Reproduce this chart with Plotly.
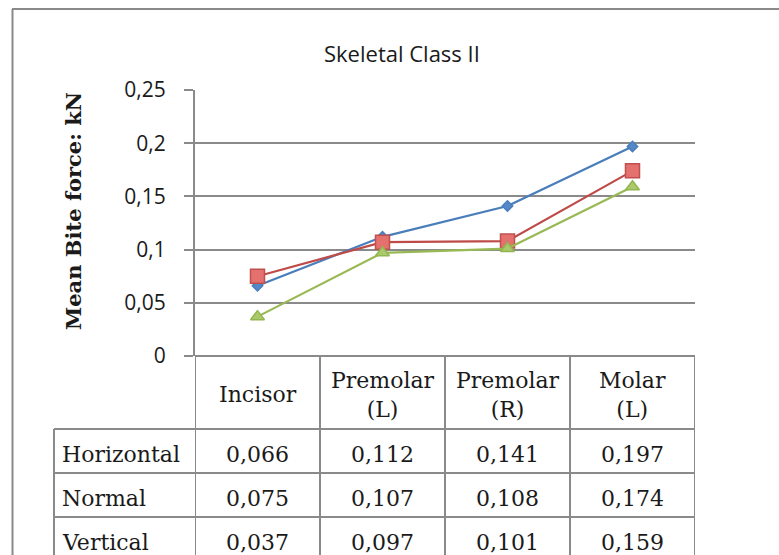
import plotly.graph_objects as go

# ---- data ----
categories = ["Incisor", "Premolar<br>(L)", "Premolar<br>(R)", "Molar<br>(L)"]
series_names = ["Horizontal", "Normal", "Vertical"]
horizontal = [0.066, 0.112, 0.141, 0.197]
normal = [0.075, 0.107, 0.108, 0.174]
vertical = [0.037, 0.097, 0.101, 0.159]
tick_vals = [0, 0.05, 0.1, 0.15, 0.2, 0.25]
tick_text = ["0", "0,05", "0,1", "0,15", "0,2", "0,25"]
title_text = "Skeletal Class II"
y_title = "Mean Bite force: kN"

series_values = [horizontal, normal, vertical]

W, H = 779, 555
def px(x):
    return x / W
def py(y):
    return 1 - y / H

GRAY = "#8a8a8a"
styles = [
    dict(line="#4a7ebb", fill="#5588c8", edge="#4a7ebb", symbol="diamond", size=8),
    dict(line="#be4b48", fill="#e5716e", edge="#c0504d", symbol="square", size=14),
    dict(line="#98b954", fill="#a9c96a", edge="#93b552", symbol="triangle-up", size=12),
]

fig = go.Figure()
xs = list(range(len(categories)))
for name, vals, st in zip(series_names, series_values, styles):
    fig.add_trace(go.Scatter(
        x=xs, y=vals, name=name, mode="lines+markers",
        line=dict(color=st["line"], width=2.2),
        marker=dict(symbol=st["symbol"], size=st["size"], color=st["fill"],
                    line=dict(color=st["edge"], width=1.5)),
        showlegend=False, cliponaxis=False,
    ))

# plot area pixels
X0, X1 = 195, 695
Y_TOP, Y_ZERO = 90, 356

fig.update_layout(
    width=W, height=H,
    margin=dict(l=0, r=0, t=0, b=0, pad=0, autoexpand=False),
    paper_bgcolor="white", plot_bgcolor="white",
    xaxis=dict(domain=[px(X0), px(X1)], range=[-0.5, len(categories) - 0.5],
               showgrid=False, zeroline=False, showticklabels=False,
               showline=False, fixedrange=True, automargin=False),
    yaxis=dict(domain=[py(Y_ZERO), py(Y_TOP)], range=[0, 0.25],
               tickvals=tick_vals, ticktext=tick_text,
               showgrid=True, gridcolor=GRAY, gridwidth=2,
               zeroline=False, showline=True, linecolor=GRAY, linewidth=2,
               ticks="outside", ticklen=9, tickwidth=2, tickcolor=GRAY,
               ticklabelstandoff=14, automargin=False,
               tickfont=dict(family="Open Sans", size=21, color="#1a1a1a"),
               fixedrange=True),
)

shapes = []
def hline(x0, x1, y, xref="paper"):
    shapes.append(dict(type="line", xref=xref, yref="paper", x0=x0, x1=x1,
                       y0=py(y), y1=py(y), line=dict(color=GRAY, width=2)))
def vline(x, y0, y1, xref="paper"):
    shapes.append(dict(type="line", xref=xref, yref="paper", x0=x, x1=x,
                       y0=py(y0), y1=py(y1), line=dict(color=GRAY, width=2)))

# outer chart border (top and left)
hline(px(12), 1.01, 9)
vline(px(12.5), 9, 570)

# table
ROW_TOP = 429
ROW_H = 44
LABEL_L = 54
n = len(categories)
hline(px(X0), px(X1), Y_ZERO)
for r in range(len(series_names) + 1):
    hline(px(LABEL_L), px(X1), ROW_TOP + r * ROW_H)
vline(px(LABEL_L), ROW_TOP, 570)
for i in range(n + 1):
    vline(i - 0.5, Y_ZERO, 570, xref="x")

annotations = []
SERIF = "DejaVu Serif"
for i, c in enumerate(categories):
    annotations.append(dict(xref="x", yref="paper", x=i, y=py((Y_ZERO + ROW_TOP) / 2 + 2),
                            text=c, showarrow=False, xanchor="center", yanchor="middle",
                            font=dict(family=SERIF, size=22, color="#1a1a1a")))
for r, (name, vals) in enumerate(zip(series_names, series_values)):
    yc = ROW_TOP + r * ROW_H + ROW_H / 2 + 3
    annotations.append(dict(xref="paper", yref="paper", x=px(LABEL_L + 6), y=py(yc),
                            text=name, showarrow=False, xanchor="left", yanchor="middle",
                            font=dict(family=SERIF, size=22, color="#1a1a1a")))
    for i, v in enumerate(vals):
        annotations.append(dict(xref="x", yref="paper", x=i, y=py(yc),
                                text=f"{v:.3f}".replace(".", ","), showarrow=False,
                                xanchor="center", yanchor="middle",
                                font=dict(family=SERIF, size=22, color="#1a1a1a")))

# title and axis title
annotations.append(dict(xref="paper", yref="paper", x=px(402), y=py(53), text=title_text,
                        showarrow=False, xanchor="center", yanchor="middle",
                        font=dict(family="Open Sans", size=22, color="#1a1a1a")))
annotations.append(dict(xref="paper", yref="paper", x=px(73), y=py(211), text=f"<b>{y_title}</b>",
                        showarrow=False, textangle=-90, xanchor="center", yanchor="middle",
                        font=dict(family=SERIF, size=21, color="#1a1a1a")))

fig.update_layout(shapes=shapes, annotations=annotations)
fig.write_html("out.html")
